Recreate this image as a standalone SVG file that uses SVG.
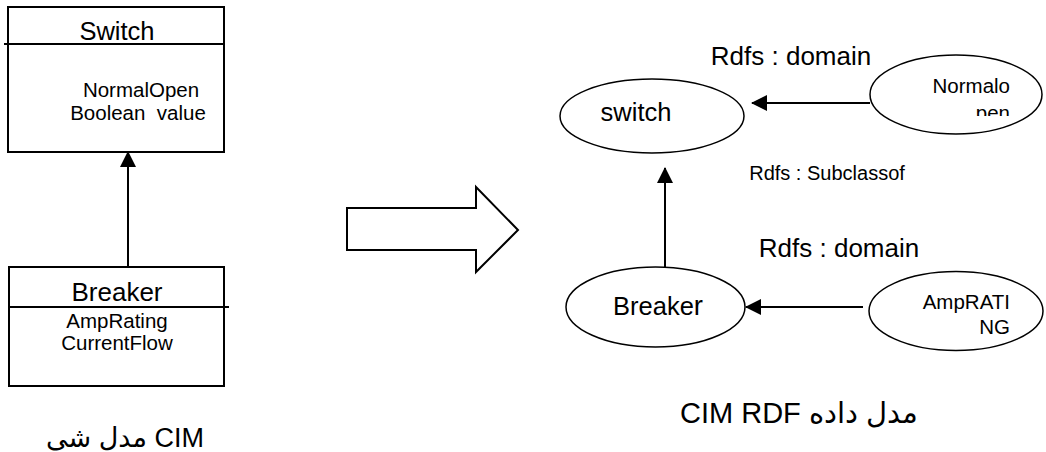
<svg xmlns="http://www.w3.org/2000/svg" width="1046" height="452" viewBox="0 0 1046 452">
<style>
.t{font-family:"Liberation Sans","DejaVu Sans",Arial,sans-serif;fill:#000}
.box{fill:#fff;stroke:#000;stroke-width:2}
.ln{stroke:#000;stroke-width:2;fill:none}
.el{fill:#fff;stroke:#000;stroke-width:1.5}
</style>
<defs>
<marker id="ah" viewBox="0 0 16 16" refX="15" refY="8" markerWidth="16" markerHeight="16" markerUnits="userSpaceOnUse" orient="auto">
<path d="M0,0 L16,8 L0,16 Z" fill="#000"/>
</marker>
<clipPath id="c1"><rect x="860" y="50" width="186" height="66"/></clipPath>
<clipPath id="c2"><rect x="860" y="268" width="186" height="67"/></clipPath>
</defs>

<g id="switch-class">
<rect class="box" x="8" y="7" width="216" height="145"/>
<line class="ln" x1="4" y1="44" x2="223" y2="44"/>
<text class="t" x="117" y="40" font-size="25.5" text-anchor="middle">Switch</text>
<text class="t" x="141" y="97" font-size="20.5" text-anchor="middle">NormalOpen</text>
<text class="t" x="138" y="120" font-size="20.5" text-anchor="middle" xml:space="preserve">Boolean  value</text>
</g>

<g id="breaker-class">
<rect class="box" x="9" y="267" width="215" height="119"/>
<line class="ln" x1="9" y1="307" x2="229" y2="307"/>
<text class="t" x="117" y="301" font-size="26" text-anchor="middle">Breaker</text>
<text class="t" x="117" y="328" font-size="20.5" text-anchor="middle">AmpRating</text>
<text class="t" x="117" y="350" font-size="20.5" text-anchor="middle">CurrentFlow</text>
</g>

<g id="caption-left">
<text class="t" x="204" y="447" font-size="27" text-anchor="end">مدل شی CIM</text>
</g>

<g id="transform-arrow">
<path d="M347,208 L476,208 L476,187 L518,230 L476,272 L476,250 L347,250 Z" fill="#fff" stroke="#000" stroke-width="2" stroke-linejoin="miter"/>
</g>

<g id="switch-node">
<ellipse class="el" cx="652" cy="116" rx="92" ry="37"/>
<text class="t" x="636" y="121" font-size="25.5" text-anchor="middle">switch</text>
</g>

<g id="normalopen-node">
<ellipse class="el" cx="956" cy="94.5" rx="86" ry="39.5"/>
<g clip-path="url(#c1)">
<text class="t" x="1010" y="93" font-size="20.5" text-anchor="end">Normalo</text>
<text class="t" x="1010" y="120" font-size="20.5" text-anchor="end">pen</text>
</g>
</g>

<g id="breaker-node">
<ellipse class="el" cx="655.5" cy="307" rx="89.5" ry="40"/>
<text class="t" x="658" y="315" font-size="25.5" text-anchor="middle">Breake<tspan font-size="27.5">r</tspan></text>
</g>

<g id="ampratting-node">
<ellipse class="el" cx="956" cy="311" rx="87" ry="39.5"/>
<g clip-path="url(#c2)">
<text class="t" x="1010" y="309" font-size="20.5" text-anchor="end">AmpRATI</text>
<text class="t" x="1010" y="334" font-size="20.5" text-anchor="end">NG</text>
</g>
</g>

<g id="connectors">
<line class="ln" x1="128" y1="267" x2="128" y2="152" marker-end="url(#ah)"/>
<line class="ln" x1="870" y1="103" x2="752" y2="103" marker-end="url(#ah)"/>
<line class="ln" x1="665" y1="267" x2="665" y2="168" marker-end="url(#ah)"/>
<line class="ln" x1="863" y1="307" x2="746" y2="307" marker-end="url(#ah)"/>
</g>

<g id="labels">
<text class="t" x="791" y="65" font-size="26" text-anchor="middle">Rdfs : domain</text>
<text class="t" x="827" y="180" font-size="20" text-anchor="middle">Rdfs : Subclassof</text>
<text class="t" x="839" y="257" font-size="26" text-anchor="middle">Rdfs : domain</text>
<text class="t" x="680" y="423" font-size="29" text-anchor="start">CIM RDF مدل داده</text>
</g>
</svg>
